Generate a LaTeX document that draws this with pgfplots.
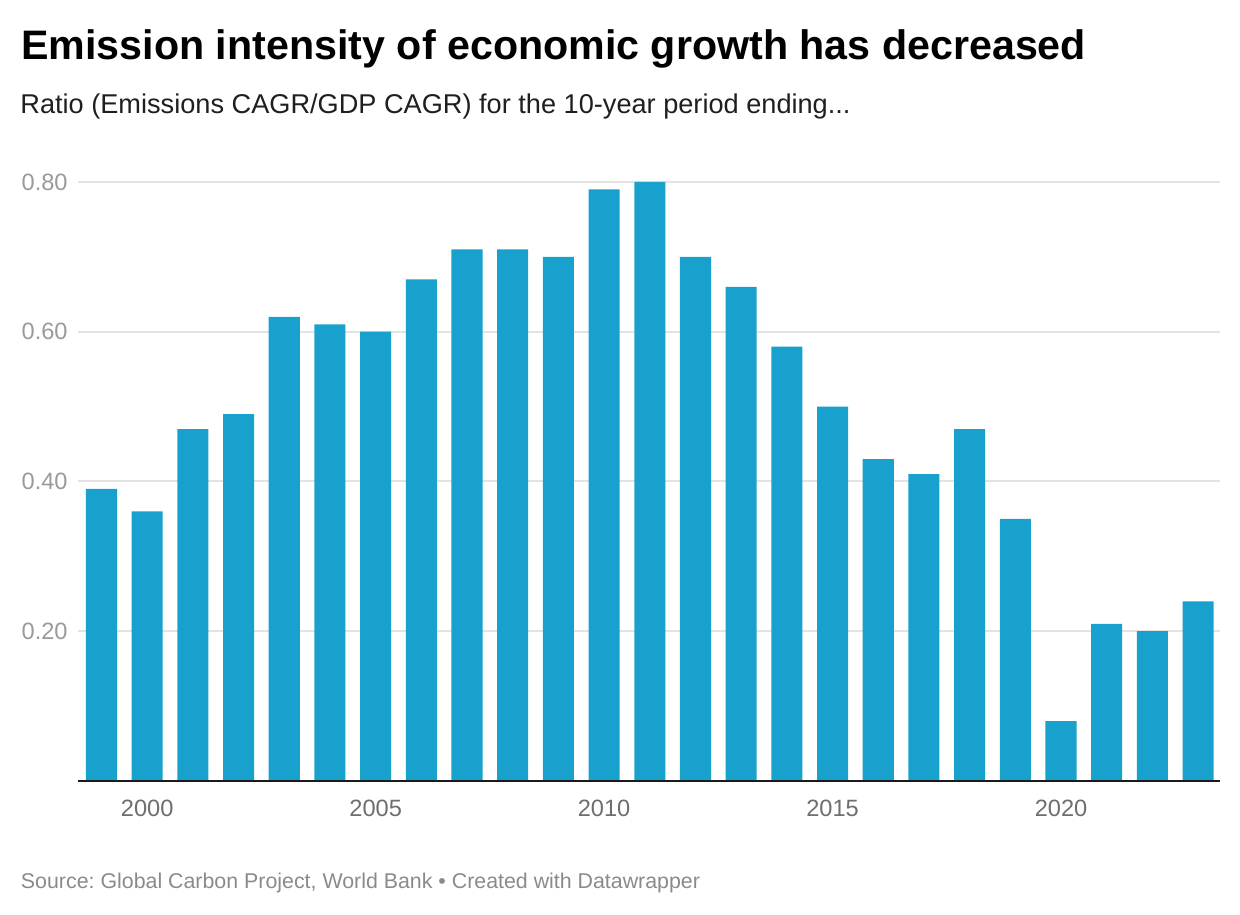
\documentclass[border=0pt]{standalone}
\usepackage{pgfplots}
\pgfplotsset{compat=1.18}
\usepackage{fontspec}
\setmainfont{Liberation Sans}
\definecolor{barblue}{HTML}{18A1CD}
\definecolor{gridgray}{HTML}{E3E3E3}
\definecolor{ylab}{HTML}{9A9A9A}
\definecolor{xlab}{HTML}{6E6E6E}
\definecolor{srcgray}{HTML}{8A8A8A}
\definecolor{axisblack}{HTML}{1A1A1A}
\begin{document}
\frenchspacing
\begin{tikzpicture}
\useasboundingbox (-39pt,-66.5pt) rectangle (581pt,390.5pt);
\begin{axis}[
  at={(0,0)}, anchor=south west,
  scale only axis,
  width=571pt, height=299.5pt,
  xmin=1998.486, xmax=2023.48,
  ymin=0, ymax=0.8,
  axis line style={draw=none},
  axis x line*=bottom,
  axis y line*=left,
  ytick={0.2,0.4,0.6,0.8},
  xtick={2000,2005,2010,2015,2020},
  xticklabels={2000,2005,2010,2015,2020},
  major tick length=0pt,
  tick style={draw=none},
  ymajorgrids,
  grid style={gridgray, line width=1pt},
  /pgf/number format/assume math mode=true,
  yticklabel style={font=\fontsize{11.8pt}{14pt}\selectfont, text=ylab, inner sep=0pt, anchor=east, xshift=-5pt},
  yticklabel={\pgfmathprintnumber[fixed,fixed zerofill,precision=2,assume math mode=true]{\tick}},
  xticklabel style={font=\fontsize{11.8pt}{14pt}\selectfont, text=xlab, inner sep=0pt, anchor=north, yshift=-9.5pt},
  clip=false,
]
\addplot[ybar, bar width=0.68, fill=barblue, draw=none] coordinates {
(1999,0.39) (2000,0.36) (2001,0.47) (2002,0.49) (2003,0.62) (2004,0.61)
(2005,0.60) (2006,0.67) (2007,0.71) (2008,0.71) (2009,0.70) (2010,0.79)
(2011,0.80) (2012,0.70) (2013,0.66) (2014,0.58) (2015,0.50) (2016,0.43)
(2017,0.41) (2018,0.47) (2019,0.35) (2020,0.08) (2021,0.21) (2022,0.20)
(2023,0.24)
};
\draw[axisblack, line width=1pt] (axis cs:1998.486,0) -- (axis cs:2023.48,0);
\end{axis}
\node[anchor=base west, inner sep=0pt, font=\bfseries\fontsize{20.6pt}{24pt}\selectfont] at (-28.5pt,360.5pt) {Emission intensity of economic growth has decreased};
\node[anchor=base west, inner sep=0pt, text=black!88, font=\fontsize{13.58pt}{16pt}\selectfont] at (-29pt,333.5pt) {Ratio (Emissions CAGR/GDP CAGR) for the 10-year period ending...};
\node[anchor=base west, inner sep=0pt, text=srcgray, font=\fontsize{10.68pt}{13pt}\selectfont] at (-28.7pt,-53.5pt) {Source: Global Carbon Project, World Bank • Created with Datawrapper};
\end{tikzpicture}
\end{document}
